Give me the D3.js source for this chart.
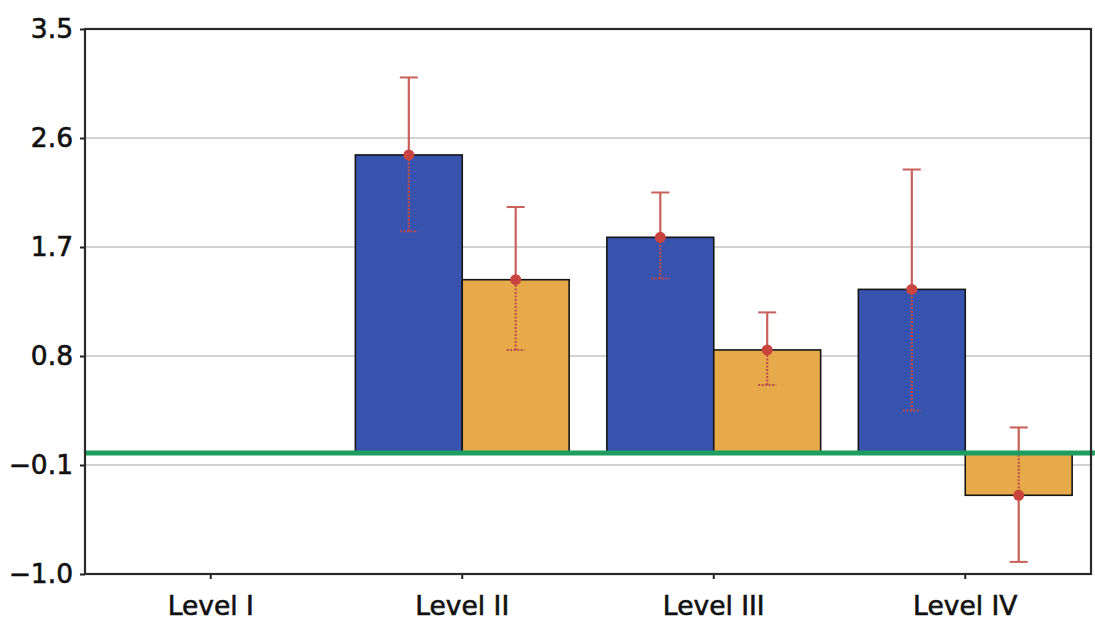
<!DOCTYPE html>
<html>
<head>
<meta charset="utf-8">
<script src="https://cdn.jsdelivr.net/npm/d3@7"></script>
<style>
  body { margin: 0; background: #fff; }
  text { font-family: "DejaVu Sans", Verdana, sans-serif; fill: #111; }
</style>
</head>
<body>
<svg width="1095" height="639"></svg>
<script>
// data
var categories = ["Level I", "Level II", "Level III", "Level IV"];
var seriesNames = ["blue", "orange"];
var blueValues = [null, 2.46, 1.78, 1.35];
var blueLow = [null, 1.83, 1.44, 0.35];
var blueHigh = [null, 3.10, 2.15, 2.34];
var orangeValues = [null, 1.43, 0.85, -0.35];
var orangeLow = [null, 0.85, 0.56, -0.90];
var orangeHigh = [null, 2.03, 1.16, 0.21];
var yTicks = [-1.0, -0.1, 0.8, 1.7, 2.6, 3.5];
var refValue = 0;

var colors = { blue: "#3853ad", orange: "#e7aa4b" };

var svg = d3.select("svg"),
    margin = { top: 29, right: 4, bottom: 65, left: 85 },
    width = svg.attr("width") - margin.left - margin.right,
    height = svg.attr("height") - margin.top - margin.bottom;

var rows = [];
categories.forEach(function(c, i) {
    rows.push({ cat: c, key: "blue", v: blueValues[i], lo: blueLow[i], hi: blueHigh[i] });
    rows.push({ cat: c, key: "orange", v: orangeValues[i], lo: orangeLow[i], hi: orangeHigh[i] });
});
rows = rows.filter(function(d) { return d.v !== null; });

var x0 = d3.scaleBand().domain(categories).range([0, width]).padding(0);
var bw = x0.bandwidth();
var x1 = d3.scaleBand().domain(seriesNames).range([bw * 0.075, bw * 0.925]).padding(0);
var y = d3.scaleLinear().domain([-1.0, 3.5]).range([height, 0]);

var g = svg.append("g")
    .attr("transform", "translate(" + margin.left + "," + margin.top + ")");

// grid lines
g.selectAll(".grid")
    .data(yTicks.slice(1, -1))
    .enter().append("line")
    .attr("x1", 0).attr("x2", width)
    .attr("y1", function(d) { return y(d); })
    .attr("y2", function(d) { return y(d); })
    .attr("stroke", "#c4c4c4")
    .attr("stroke-width", 1.6);

// bars
g.selectAll(".bar")
    .data(rows)
    .enter().append("rect")
    .attr("x", function(d) { return x0(d.cat) + x1(d.key); })
    .attr("width", x1.bandwidth())
    .attr("y", function(d) { return y(Math.max(0, d.v)); })
    .attr("height", function(d) { return Math.abs(y(d.v) - y(0)); })
    .attr("fill", function(d) { return colors[d.key]; })
    .attr("stroke", "#151515")
    .attr("stroke-width", 1.6);

// error bars: solid outside the bar, dotted where it crosses the bar
var errColor = "#c8605a";
rows.forEach(function(d) {
    var cx = x0(d.cat) + x1(d.key) + x1.bandwidth() / 2;
    var bLo = Math.min(0, d.v), bHi = Math.max(0, d.v);
    var segs = [];
    // split [lo, hi] at bar edges
    var cuts = [d.lo, bLo, bHi, d.hi].filter(function(v) { return v >= d.lo && v <= d.hi; }).sort(d3.ascending);
    for (var k = 0; k < cuts.length - 1; k++) {
        var a = cuts[k], b = cuts[k + 1];
        if (b - a < 1e-6) continue;
        var mid = (a + b) / 2;
        segs.push({ a: a, b: b, inside: mid > bLo && mid < bHi });
    }
    segs.forEach(function(s) {
        g.append("line")
            .attr("x1", cx).attr("x2", cx)
            .attr("y1", y(s.a)).attr("y2", y(s.b))
            .attr("stroke", s.inside ? "#c0504a" : errColor)
            .attr("stroke-width", 2.2)
            .attr("stroke-dasharray", s.inside ? "2,1.5" : null);
    });
    [d.lo, d.hi].forEach(function(v) {
        var inside = v > bLo && v < bHi;
        g.append("line")
            .attr("x1", cx - 9).attr("x2", cx + 9)
            .attr("y1", y(v)).attr("y2", y(v))
            .attr("stroke", inside ? "#b84a50" : errColor)
            .attr("stroke-width", 2)
            .attr("stroke-dasharray", inside ? "2,1.5" : null);
    });
    g.append("circle")
        .attr("cx", cx).attr("cy", y(d.v))
        .attr("r", 5.5)
        .attr("fill", "#c9443e");
});

// reference line at zero, runs past the right frame
g.append("line")
    .attr("x1", 0).attr("x2", +svg.attr("width") - margin.left)
    .attr("y1", y(refValue)).attr("y2", y(refValue))
    .attr("stroke", "#1d9e60")
    .attr("stroke-width", 5);

// axes
var yAxis = g.append("g")
    .call(d3.axisLeft(y).tickValues(yTicks).tickFormat(d3.format(".1f")).tickSize(5).tickPadding(7));
var xAxis = g.append("g")
    .attr("transform", "translate(0," + height + ")")
    .call(d3.axisBottom(x0).tickSize(5).tickPadding(17));

[yAxis, xAxis].forEach(function(ax) {
    ax.select(".domain").remove();
    ax.selectAll("line").attr("stroke", "#222").attr("stroke-width", 2);
    ax.selectAll("text")
        .attr("font-family", "DejaVu Sans, Verdana, sans-serif")
        .attr("font-size", "26.5px")
        .attr("fill", "#111")
        .attr("stroke", "#111")
        .attr("stroke-width", 0.6);
});
yAxis.selectAll("text").text(function(d) { return d3.format(".1f")(d).replace("-", "\u2212"); });

// frame
g.append("rect")
    .attr("width", width).attr("height", height)
    .attr("fill", "none")
    .attr("stroke", "#2a2a2a")
    .attr("stroke-width", 2.2);
</script>
</body>
</html>
